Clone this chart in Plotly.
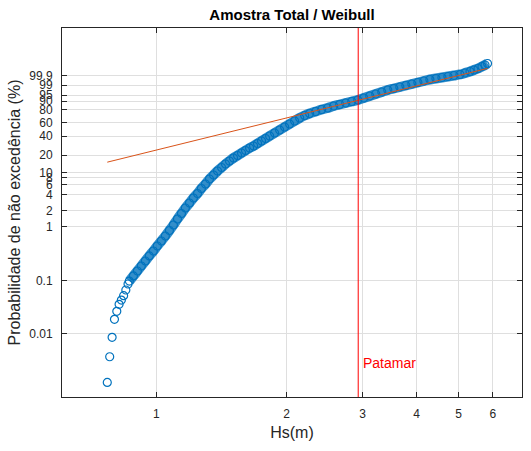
import numpy as np
import plotly.graph_objects as go

# ---- data ----
hs_m = [0.77, 0.78, 0.79, 0.80, 0.81, 0.82, 0.83, 0.84, 0.85, 0.86,
        0.866, 0.885, 0.904, 0.923, 0.943, 0.963, 0.984, 1.005, 1.027, 1.049,
        1.072, 1.095, 1.119, 1.143, 1.167, 1.193, 1.218, 1.245, 1.271, 1.299,
        1.327, 1.356, 1.385, 1.415, 1.445, 1.476, 1.508, 1.541, 1.574, 1.608,
        1.643, 1.678, 1.714, 1.751, 1.789, 1.828, 1.877, 1.928, 1.980, 2.033,
        2.088, 2.145, 2.203, 2.262, 2.336, 2.412, 2.490, 2.571, 2.655, 2.741,
        2.831, 2.923, 3.018, 3.116, 3.217, 3.322, 3.430, 3.542, 3.657, 3.776,
        3.899, 4.026, 4.157, 4.292, 4.432, 4.576, 4.725, 4.879, 5.038, 5.174,
        5.314, 5.428, 5.546, 5.665, 5.757, 5.834]
prob_pct = [0.00122, 0.0037, 0.00856, 0.0186, 0.0263, 0.0356, 0.0428, 0.0516, 0.066, 0.0856,
            0.097, 0.121, 0.150, 0.186, 0.231, 0.287, 0.355, 0.441, 0.547, 0.678,
            0.859, 1.088, 1.408, 1.782, 2.254, 2.790, 3.451, 4.174, 5.153, 6.22,
            7.66, 9.04, 10.66, 12.28, 14.14, 15.93, 17.93, 19.75, 21.75, 23.90,
            26.23, 28.23, 30.89, 33.74, 36.78, 40.0, 44.10, 48.42, 52.93, 57.59,
            62.34, 67.10, 71.02, 74.08, 77.05, 79.90, 81.95, 84.54, 86.35, 88.05,
            89.64, 91.10, 92.84, 94.36, 95.65, 96.72, 97.59, 98.12, 98.56, 98.92,
            99.199, 99.420, 99.589, 99.716, 99.781, 99.833, 99.874, 99.906, 99.931, 99.9574,
            99.9747, 99.9855, 99.9919, 99.9966, 99.99827, 99.99917]

tick_pct = [0.01, 0.1, 1, 2, 4, 6, 8, 10, 20, 40, 60, 80, 90, 95, 99, 99.9]
tick_labels = ["0.01", "0.1", "1", "2", "4", "6", "8", "10", "20", "40",
               "60", "80", "90", "95", "99", "99.9"]
x_ticks = [1, 2, 3, 4, 5, 6]
x_tick_labels = ["1", "2", "3", "4", "5", "6"]

weibull_scale = 1.895   # fitted scale (m)
weibull_shape = 2.0     # fitted shape
patamar_hs = 2.93       # threshold (m)
dense_from = 10         # index where the sample becomes a continuous band

title_text = "Amostra Total / Weibull"
x_label = "Hs(m)"
y_label = "Probabilidade de não excedência (%)"
patamar_label = "Patamar"


def weibull_scale_y(p_pct):
    p = np.asarray(p_pct, dtype=float) / 100.0
    return np.log(-np.log1p(-p))


y_pts = weibull_scale_y(prob_pct)
fit_x = np.array([min(hs_m), max(hs_m)])
fit_y = weibull_shape * (np.log(fit_x) - np.log(weibull_scale))

FONT = "Liberation Sans, Arial, Helvetica, sans-serif"
AX = "#262626"
GRID = "#dfdfdf"
BLUE = "#0072BD"

fig = go.Figure()
# dense part of the sample drawn as a band of overlapping markers
fig.add_trace(go.Scatter(
    x=hs_m[dense_from:], y=y_pts[dense_from:], mode="lines",
    line=dict(color="rgba(0,114,189,0.8)", width=10, shape="spline", smoothing=0.8),
    showlegend=False, hoverinfo="skip"))
fig.add_trace(go.Scatter(
    x=hs_m, y=y_pts, mode="markers",
    marker=dict(symbol="circle-open", size=8, color=BLUE,
                line=dict(width=1.2, color=BLUE)),
    showlegend=False, hoverinfo="skip"))
fig.add_trace(go.Scatter(
    x=fit_x, y=fit_y, mode="lines",
    line=dict(color="#D95319", width=1),
    showlegend=False, hoverinfo="skip"))

fig.add_shape(type="line", xref="x", yref="paper",
              x0=patamar_hs, x1=patamar_hs, y0=0, y1=1,
              line=dict(color="#FF0000", width=1), layer="above")
fig.add_annotation(x=np.log10(patamar_hs), xref="x", yref="paper", y=0.092,
                   text=patamar_label, showarrow=False, xanchor="left",
                   yanchor="middle", xshift=3,
                   font=dict(family=FONT, size=14, color="#FF0000"))

fig.update_layout(
    width=531, height=451,
    margin=dict(l=62, r=9, t=28, b=54),
    paper_bgcolor="white", plot_bgcolor="white",
    font=dict(family=FONT, color=AX),
    title=dict(text="<b>" + title_text + "</b>", x=0.5, xref="paper",
               y=1 - 15 / 451, yref="container", yanchor="middle",
               xanchor="center",
               font=dict(family=FONT, size=15, color="#000000")),
)
fig.update_xaxes(
    type="log", range=[np.log10(0.605), np.log10(7.01)],
    tickvals=x_ticks, ticktext=x_tick_labels,
    ticks="inside", ticklen=5, tickcolor=AX, tickwidth=1,
    showline=True, linecolor=AX, linewidth=1, mirror="ticks",
    showgrid=True, gridcolor=GRID, gridwidth=1, zeroline=False,
    tickfont=dict(family=FONT, size=12, color=AX),
    ticklabelstandoff=6,
    title=dict(text=x_label, font=dict(family=FONT, size=16, color=AX), standoff=6),
)
fig.update_yaxes(
    range=[-11.944, 3.993],
    tickvals=list(weibull_scale_y(tick_pct)), ticktext=tick_labels,
    ticks="inside", ticklen=5, tickcolor=AX, tickwidth=1,
    showline=True, linecolor=AX, linewidth=1, mirror="ticks",
    showgrid=True, gridcolor=GRID, gridwidth=1, zeroline=False,
    tickfont=dict(family=FONT, size=12, color=AX),
    ticklabelstandoff=6,
    title=dict(text=y_label, font=dict(family=FONT, size=16, color=AX), standoff=4),
)

fig.write_html("out.html")
